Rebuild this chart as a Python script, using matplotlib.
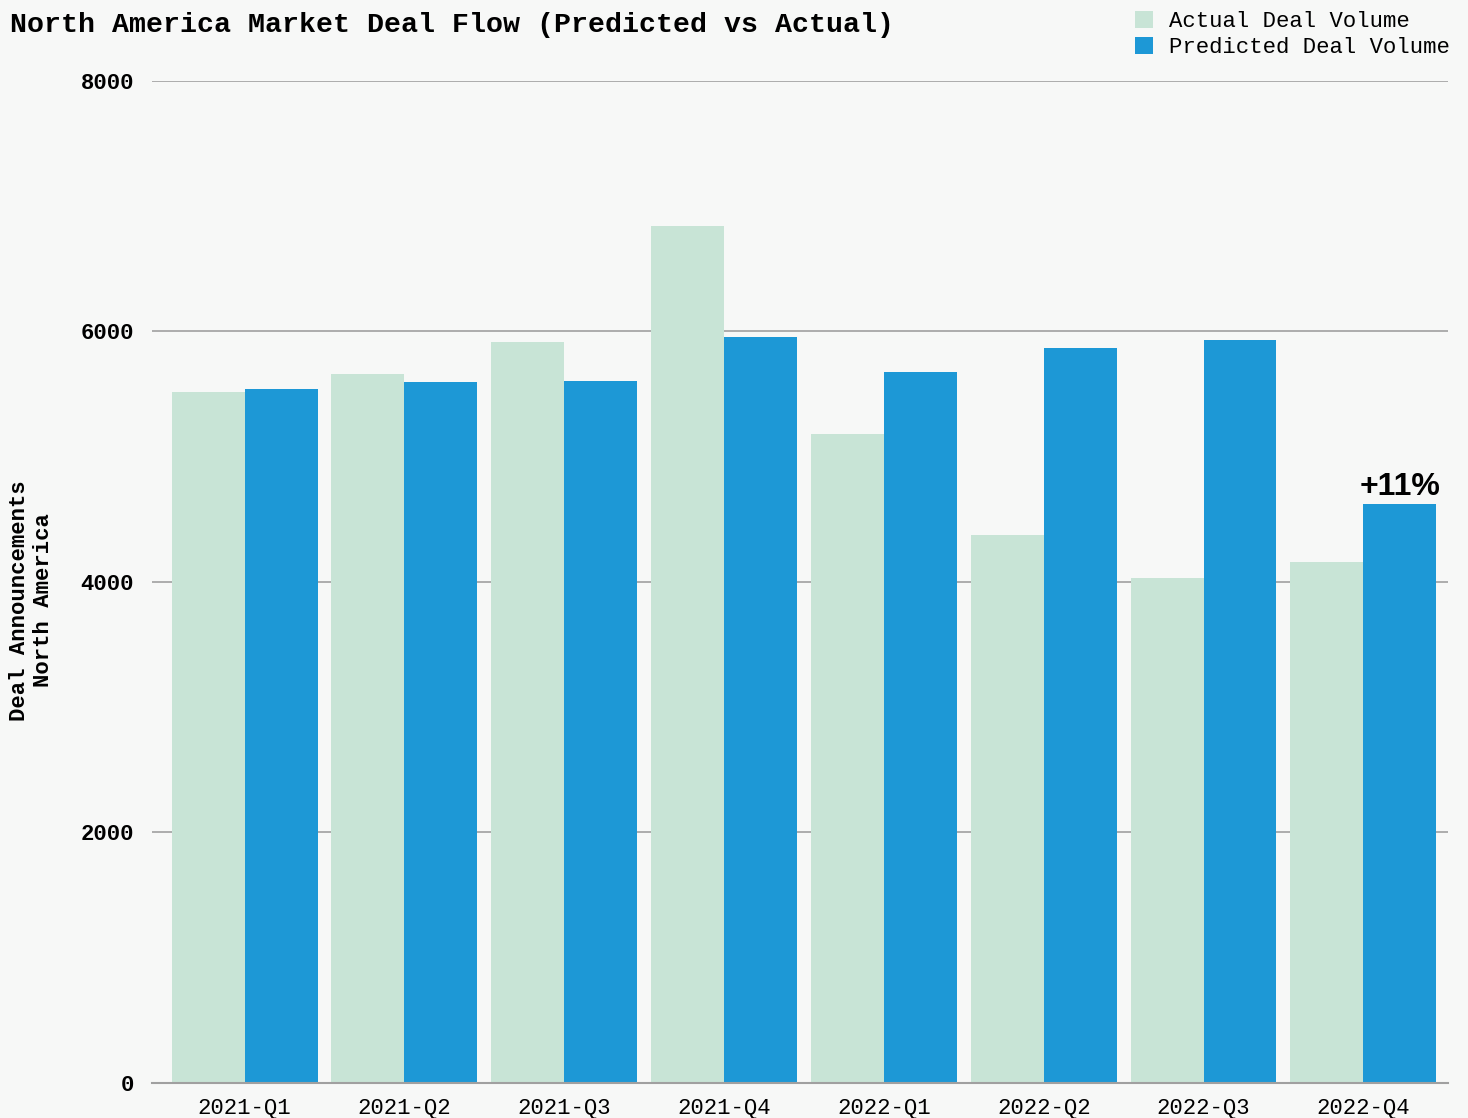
import numpy as np
import matplotlib.pyplot as plt

# quarterly deal announcements, North America
quarters = ["2021-Q1", "2021-Q2", "2021-Q3", "2021-Q4",
            "2022-Q1", "2022-Q2", "2022-Q3", "2022-Q4"]
actual = [5517, 5661, 5916, 6842, 5182, 4375, 4032, 4160]
predicted = [5541, 5597, 5605, 5956, 5677, 5868, 5932, 4623]
yticks = [0, 2000, 4000, 6000, 8000]

bg = "#F7F8F7"
c_actual = "#C8E4D6"
c_pred = "#1D98D6"
mono = "Liberation Mono"

fig = plt.figure(figsize=(14.68, 11.18), dpi=100, facecolor=bg)
ax = fig.add_axes([0.1035, 0.0313, 0.8829, 0.8963], facecolor=bg)

x = np.arange(len(quarters))
w = 0.4565
ax.bar(x - w / 2, actual, w, color=c_actual, label="Actual Deal Volume", zorder=2)
ax.bar(x + w / 2, predicted, w, color=c_pred, label="Predicted Deal Volume", zorder=2)

ax.set_ylim(0, 8000)
ax.set_xlim(-0.58, 7.53)
ax.set_yticks(yticks)
ax.set_yticklabels([str(t) for t in yticks], fontfamily=mono, fontweight="bold", fontsize=16)
ax.set_xticks(x)
ax.set_xticklabels(quarters, fontfamily=mono, fontsize=16)
ax.tick_params(axis="y", length=0, pad=13)
ax.tick_params(axis="x", length=0, pad=11)
ax.yaxis.grid(True, color="#A0A0A0", linewidth=1.2, zorder=0)
for s in ["top", "right", "left"]:
    ax.spines[s].set_visible(False)
ax.spines["bottom"].set_color("#A0A0A0")
ax.spines["bottom"].set_linewidth(1.5)
ax.spines["bottom"].set_zorder(3)

# growth of the last predicted quarter over actual
pct = (predicted[-1] / actual[-1] - 1) * 100
ax.annotate(f"+{pct:.0f}%", xy=(x[-1] + w / 2, predicted[-1]), xytext=(0, 1.5),
            textcoords="offset points", ha="center", va="bottom",
            fontfamily="Liberation Sans", fontweight="bold", fontsize=23)

fig.text(0.007, 0.978, "North America Market Deal Flow (Predicted vs Actual)",
         fontfamily=mono, fontweight="bold", fontsize=20.3, va="center", ha="left")
fig.text(0.0215, 0.463, "Deal Announcements\nNorth America", rotation=90,
         fontfamily=mono, fontweight="bold", fontsize=16, ha="center", va="center",
         multialignment="center", linespacing=1.2)

fig.legend(loc="upper right", bbox_to_anchor=(1.001, 1.008), frameon=False,
           prop={"family": mono, "size": 16}, handlelength=0.8, handleheight=0.8,
           handletextpad=0.7, labelspacing=0.2)

fig.savefig("out.png", dpi=100, facecolor=bg)
